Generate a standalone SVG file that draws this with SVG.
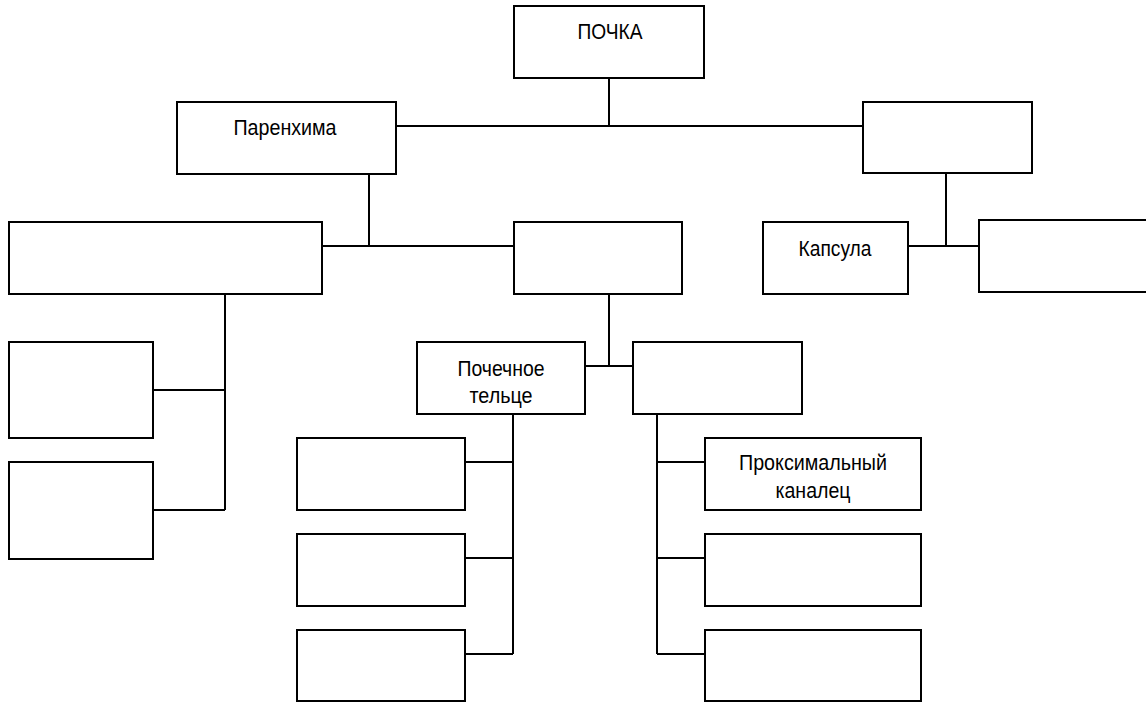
<svg xmlns="http://www.w3.org/2000/svg" width="1146" height="702" viewBox="0 0 1146 702">
<style>
.box{fill:#fff;stroke:#000;stroke-width:2}
.ln{fill:none;stroke:#000;stroke-width:2}
.t{font-family:"Liberation Sans",Arial,sans-serif;font-size:22px;fill:#000;text-anchor:middle}
</style>
<rect width="1146" height="702" fill="#fff"/>
<g id="connectors" class="ln">
<path d="M609 78V126M396 126H863"/>
<path d="M369 174V246M322 246H514"/>
<path d="M946 173V246M908 246H982"/>
<path d="M225 294V510M153 390H225M153 510H225"/>
<path d="M609 294V366M585 366H633"/>
<path d="M513 414V654M465 462H513M465 558H513M465 654H513"/>
<path d="M657 414V654M657 462H705M657 558H705M657 654H705"/>
</g>
<g id="n-pochka"><rect class="box" x="514" y="6" width="190" height="72"/><text class="t" x="610" y="39" textLength="65" lengthAdjust="spacingAndGlyphs">ПОЧКА</text></g>
<g id="n-parenhima"><rect class="box" x="177" y="102" width="219" height="72"/><text class="t" x="285" y="135" textLength="103" lengthAdjust="spacingAndGlyphs">Паренхима</text></g>
<g id="n-right-top"><rect class="box" x="863" y="102" width="169" height="71"/></g>
<g id="n-wide-left"><rect class="box" x="9" y="222" width="313" height="72"/></g>
<g id="n-middle"><rect class="box" x="514" y="222" width="168" height="72"/></g>
<g id="n-kapsula"><rect class="box" x="763" y="222" width="145" height="72"/><text class="t" x="835" y="256" textLength="73" lengthAdjust="spacingAndGlyphs">Капсула</text></g>
<g id="n-right-edge"><rect class="box" x="979" y="220" width="180" height="72"/></g>
<g id="n-left1"><rect class="box" x="9" y="342" width="144" height="96"/></g>
<g id="n-left2"><rect class="box" x="9" y="462" width="144" height="97"/></g>
<g id="n-telce"><rect class="box" x="417" y="342" width="168" height="72"/><text class="t" x="501" y="376" textLength="87" lengthAdjust="spacingAndGlyphs">Почечное</text><text class="t" x="501" y="403" textLength="63" lengthAdjust="spacingAndGlyphs">тельце</text></g>
<g id="n-kanalcy"><rect class="box" x="633" y="342" width="169" height="72"/></g>
<g id="n-b1"><rect class="box" x="297" y="438" width="168" height="72"/></g>
<g id="n-b2"><rect class="box" x="297" y="534" width="168" height="72"/></g>
<g id="n-b3"><rect class="box" x="297" y="630" width="168" height="71"/></g>
<g id="n-prox"><rect class="box" x="705" y="438" width="216" height="72"/><text class="t" x="813" y="470" textLength="148" lengthAdjust="spacingAndGlyphs">Проксимальный</text><text class="t" x="813" y="498" textLength="75" lengthAdjust="spacingAndGlyphs">каналец</text></g>
<g id="n-c2"><rect class="box" x="705" y="534" width="216" height="72"/></g>
<g id="n-c3"><rect class="box" x="705" y="630" width="216" height="71"/></g>
</svg>
